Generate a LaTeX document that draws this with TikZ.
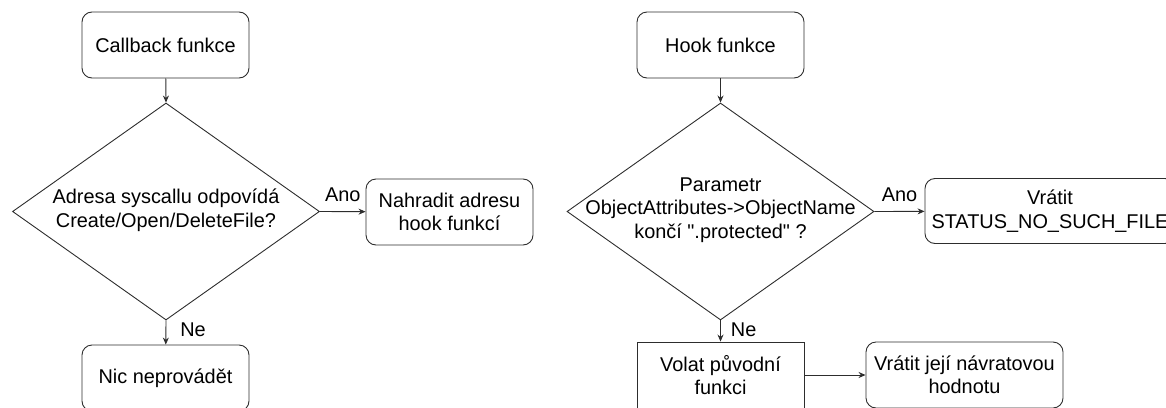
\documentclass[tikz,border=0pt]{standalone}
\usepackage{fontspec}
\setmainfont{Liberation Sans}[Ligatures=TeXOff]
\usepackage{xcolor}
\definecolor{lineGray}{RGB}{45, 45, 45}
\usepackage{tikz}
\usetikzlibrary{positioning,shapes.geometric,arrows.meta}

\begin{document}
\begin{tikzpicture}[x=1pt, y=-1pt,
  every node/.style={font=\fontsize{19.9}{23.5}\selectfont, align=center, inner sep=0pt},
  roundbox/.style={draw=lineGray, line width=0.9pt, rounded corners=10pt, minimum height=66pt},
  plainbox/.style={draw=lineGray, line width=0.9pt, minimum height=66pt},
  decision/.style={draw=lineGray, line width=0.9pt, diamond, minimum width=307pt, minimum height=217pt},
  flow/.style={draw=lineGray, line width=0.9pt, -{Stealth[length=7pt,width=6pt]}}]
\useasboundingbox (0,0) rectangle (1166,407);

% callback
\node[roundbox, minimum width=167pt] (callback) at (165.5,45) {Callback funkce};
\node[decision] (syscall) at (166,211.5) {};
\node (syscallText) at (166,210) {Adresa syscallu odpovídá\\Create/Open/DeleteFile?};
\node[roundbox, minimum width=167pt] (replace) at (449.5,212) {Nahradit adresu\\hook funkcí};
\node[roundbox, minimum width=167pt] (nothing) at (165.5,378) {Nic neprovádět};

\draw[flow] (callback) -- (syscall.north);
\draw[flow] (syscall.east) -- node[above=9pt] (anoLeft) {Ano} (replace);
\draw[flow] (syscall.south) -- node[pos=0.4, right=14pt] (neLeft) {Ne} (nothing);

% hook
\node[roundbox, minimum width=167pt] (hook) at (720.5,45) {Hook funkce};
\node[decision] (param) at (720.5,211.5) {};
\node (paramText) at (720.5,210) {Parametr\\ObjectAttributes->ObjectName\\končí ".protected" ?};
\node[roundbox, minimum width=250pt, minimum height=65pt] (status) at (1050,211) {Vrátit\\STATUS\_NO\_SUCH\_FILE};
\node[plainbox, minimum width=167pt] (original) at (720.5,375) {Volat původní\\funkci};
\node[roundbox, minimum width=197pt] (result) at (964.5,375) {Vrátit její návratovou\\hodnotu};

\draw[flow] (hook) -- (param.north);
\draw[flow] (param.east) -- node[above=9pt] (anoRight) {Ano} (status);
\draw[flow] (param.south) -- node[pos=0.45, right=10pt] (neRight) {Ne} (original);
\draw[flow] (original) -- (result);
\end{tikzpicture}
\end{document}
